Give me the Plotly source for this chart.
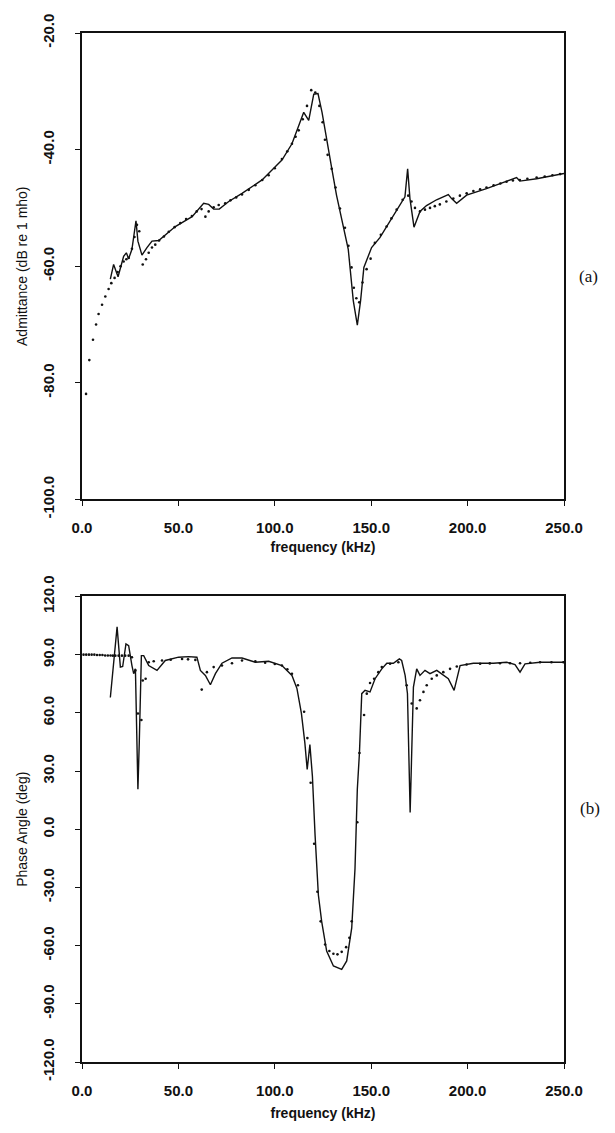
import plotly.graph_objects as go

# ---------------- data: (a) admittance ----------------
adm_meas_f = [14.7, 16.4, 18.7, 21.6, 23.0, 24.2, 25.9, 28.0, 29.0, 31.1, 33.7, 36.3, 39.8,
              48.4, 57.1, 63.1, 65.7, 68.3, 71.2, 76.1, 83.0, 93.4, 103.7, 108.9, 112.4,
              115.0, 117.6, 120.2, 122.4, 124.5, 129.7, 132.0, 138.1, 140.7, 142.8, 144.5,
              146.2, 150.2, 154.5, 159.7, 165.8, 167.5, 168.9, 170.1, 172.2, 175.3, 178.7,
              183.9, 190.0, 191.7, 194.3, 199.5, 209.8, 220.2, 225.4, 227.1, 235.8, 250.0]
adm_meas_db = [-62.2, -59.7, -61.8, -58.3, -57.7, -58.7, -57.1, -52.2, -55.7, -58.1, -56.8, -55.7, -55.6,
               -53.2, -51.5, -49.2, -49.4, -50.2, -50.2, -48.9, -47.5, -45.2, -41.8, -39.0, -35.9,
               -33.6, -35.0, -30.5, -30.4, -33.6, -43.5, -47.8, -57.1, -65.9, -70.1, -65.9,
               -60.2, -56.8, -55.1, -52.3, -48.9, -48.1, -43.3, -48.4, -53.3, -50.6, -49.6,
               -48.6, -47.7, -48.4, -49.2, -47.8, -46.7, -45.5, -44.8, -45.4, -45.0, -44.1]

adm_model_f = [2.1, 3.8, 5.7, 7.3, 8.6, 10.4, 12.1, 13.8, 15.2, 16.9, 18.5, 20.0, 21.6, 23.0, 24.2,
               25.9, 27.2, 28.5, 29.7, 31.5, 33.2, 34.6, 36.3, 38.0, 40.0, 42.5, 45.0, 48.0, 51.0,
               54.0, 57.0, 59.5, 62.0, 64.0, 65.7, 68.3, 70.9, 74.3, 77.0, 80.0, 83.0, 86.5, 89.9,
               93.5, 96.8, 100.0, 103.7, 106.5, 108.9, 110.8, 112.4, 114.5, 116.7, 118.9, 121.0,
               123.1, 124.8, 126.0, 127.4, 129.5, 131.5, 133.8, 136.4, 138.2, 139.8, 141.0, 142.3,
               143.8, 145.5, 147.6, 149.7, 151.9, 155.0, 158.0, 160.5, 163.2, 166.3, 169.2, 170.9,
               172.7, 175.3, 177.9, 180.5, 183.0, 185.6, 189.0, 192.6, 196.0, 199.5, 203.0, 206.5,
               209.8, 213.5, 217.0, 220.2, 223.5, 227.1, 231.0, 235.8, 240.0, 244.0, 248.0]
adm_model_db = [-81.9, -76.1, -72.6, -70.0, -68.2, -66.6, -65.2, -63.9, -62.9, -62.0, -61.0, -60.0, -59.2,
                -58.8, -58.6, -57.0, -55.0, -52.9, -54.0, -59.7, -58.8, -57.7, -56.8, -56.3, -55.6,
                -54.9, -54.1, -53.3, -52.6, -51.9, -51.4, -50.6, -50.2, -51.5, -50.6, -49.9, -49.5,
                -49.2, -48.7, -48.2, -47.7, -46.9, -46.1, -45.2, -44.4, -43.2, -41.6, -40.3, -39.0,
                -37.8, -36.7, -34.8, -32.5, -29.8, -30.2, -32.5, -35.3, -38.3, -40.9, -43.3, -46.5,
                -50.1, -53.4, -56.5, -60.2, -63.7, -65.5, -66.2, -62.8, -60.5, -58.7, -56.0, -54.6,
                -53.2, -51.8, -50.3, -48.6, -47.9, -48.9, -50.0, -50.6, -50.3, -50.0, -49.7, -49.4,
                -48.9, -48.4, -47.9, -47.5, -47.1, -46.8, -46.5, -46.1, -45.8, -45.5, -45.3, -45.2,
                -45.0, -44.8, -44.6, -44.4, -44.2]

# ---------------- data: (b) phase ----------------
ph_meas_f = [14.7, 18.2, 19.9, 21.1, 22.8, 24.2, 25.9, 26.8, 27.7, 29.0, 29.7, 30.8, 32.0, 34.6,
             38.9, 43.2, 50.1, 55.3, 59.6, 61.4, 64.0, 66.6, 69.2, 72.6, 77.8, 83.0, 89.9, 96.8,
             103.7, 108.9, 111.5, 113.8, 115.6, 116.8, 118.2, 119.5, 120.9, 122.6, 124.3, 126.9,
             130.4, 134.7, 137.3, 139.9, 141.6, 142.8, 143.9, 145.1, 146.8, 149.4, 152.0, 155.5,
             158.1, 161.5, 164.6, 165.8, 167.6, 168.8, 170.2, 170.7, 171.9, 173.6, 175.3, 177.9,
             180.5, 184.0, 186.6, 190.0, 193.0, 196.1, 203.0, 213.4, 220.3, 224.6, 227.2, 229.8,
             237.6, 250.0]
ph_meas_deg = [67.9, 104.3, 83.6, 83.9, 95.5, 94.6, 84.4, 80.2, 82.7, 20.6, 44.4, 89.5, 89.5, 84.4,
               81.9, 87.0, 88.7, 89.0, 88.7, 81.9, 79.3, 74.5, 80.2, 85.6, 88.3, 88.3, 86.1, 86.6,
               84.4, 79.3, 72.5, 59.7, 44.4, 30.8, 43.6, 27.4, -3.3, -33.9, -47.5, -62.8,
               -70.5, -72.2, -67.9, -50.9, -20.3, 20.6, 39.3, 69.9, 71.6, 70.8, 77.6, 82.7,
               85.6, 85.6, 87.8, 87.0, 79.3, 70.0, 8.6, 30.8, 73.3, 82.7, 79.3, 81.9,
               80.2, 81.9, 80.2, 77.6, 71.6, 84.4, 85.6, 85.6, 86.1, 84.9, 81.0, 85.3,
               86.1, 86.1]

ph_model_f = [0.8, 2.2, 3.6, 5.0, 6.4, 7.8, 9.2, 10.6, 12.0, 13.4, 14.8, 16.0, 17.3, 19.0, 20.7,
              22.4, 24.2, 25.9, 27.7, 29.0, 30.8, 31.5, 33.0, 34.6, 37.2, 41.5, 46.0, 51.9, 55.0,
              58.8, 62.1, 64.8, 68.3, 72.6, 77.8, 83.0, 89.9, 95.0, 100.0, 103.7, 106.5, 108.9,
              112.0, 115.2, 116.9, 118.6, 120.4, 122.1, 123.8, 126.1, 128.3, 130.4, 132.5, 134.7,
              137.0, 138.7, 139.9, 142.8, 143.9, 146.3, 147.7, 149.4, 151.5, 153.7, 155.5, 159.8,
              164.1, 168.4, 171.0, 173.6, 175.3, 177.1, 178.8, 181.4, 184.0, 187.4, 190.9, 194.4,
              199.5, 206.5, 211.5, 216.8, 222.0, 227.2, 232.5, 237.6, 243.5, 249.7]
ph_model_deg = [90.0, 90.0, 90.0, 90.0, 90.0, 89.8, 89.8, 89.8, 89.6, 89.6, 89.6, 89.5, 89.5, 89.5, 89.5,
                89.5, 89.5, 88.7, 81.9, 59.7, 56.3, 76.7, 77.6, 86.1, 86.6, 87.0, 87.4, 87.8, 87.6,
                87.3, 72.0, 81.0, 83.6, 84.4, 85.6, 87.0, 86.6, 85.8, 85.2, 84.4, 82.5, 80.2,
                74.2, 60.6, 47.0, 24.0, -7.5, -32.2, -47.5, -59.4, -62.8, -64.2, -64.5, -63.2,
                -60.8, -56.0, -47.5, 3.6, 39.3, 58.9, 69.9, 75.4, 77.6, 81.0, 83.6, 85.3,
                86.1, 74.2, 64.8, 62.3, 66.5, 70.8, 74.2, 77.6, 79.3, 81.0, 82.7, 83.9,
                84.9, 85.3, 85.5, 85.6, 85.6, 85.6, 85.8, 86.1, 86.1, 86.1]

freq_ticks = [0, 50, 100, 150, 200, 250]
freq_labels = ["0.0", "50.0", "100.0", "150.0", "200.0", "250.0"]
adm_ticks = [-100, -80, -60, -40, -20]
adm_labels = ["-100.0", "-80.0", "-60.0", "-40.0", "-20.0"]
ph_ticks = [-120, -90, -60, -30, 0, 30, 60, 90, 120]
ph_labels = ["-120.0", "-90.0", "-60.0", "-30.0", "0.0", "30.0", "60.0", "90.0", "120.0"]

# ---------------- figure ----------------
INK = "#111111"
fig = go.Figure()

fig.add_trace(go.Scatter(x=adm_model_f, y=adm_model_db, mode="markers",
                         marker=dict(color=INK, size=2.6), xaxis="x", yaxis="y",
                         showlegend=False))
fig.add_trace(go.Scatter(x=adm_meas_f, y=adm_meas_db, mode="lines",
                         line=dict(color=INK, width=1.4), xaxis="x", yaxis="y",
                         showlegend=False))
fig.add_trace(go.Scatter(x=ph_model_f, y=ph_model_deg, mode="markers",
                         marker=dict(color=INK, size=2.6), xaxis="x2", yaxis="y2",
                         showlegend=False))
fig.add_trace(go.Scatter(x=ph_meas_f, y=ph_meas_deg, mode="lines",
                         line=dict(color=INK, width=1.4), xaxis="x2", yaxis="y2",
                         showlegend=False))

tickfont = dict(family="Liberation Sans, Arial, sans-serif", size=15, color=INK, weight="bold")
xtitlefont = dict(family="Liberation Sans, Arial, sans-serif", size=14, color=INK, weight="bold")
ytitlefont = dict(family="Liberation Sans, Arial, sans-serif", size=14, color=INK)

def xaxis(anchor, title, standoff):
    return dict(domain=[0, 1], range=[0, 250], anchor=anchor,
                tickvals=freq_ticks, ticktext=freq_labels, tickfont=tickfont,
                ticks="outside", ticklen=5, tickwidth=1.2, tickcolor=INK,
                ticklabelstandoff=9,
                showline=True, linecolor=INK, linewidth=2, mirror=True,
                showgrid=False, zeroline=False,
                title=dict(text=title, font=xtitlefont, standoff=standoff),
                automargin=True)

def yaxis(anchor, domain, rng, vals, labels, title):
    return dict(domain=domain, range=rng, anchor=anchor,
                tickvals=vals, ticktext=labels, tickfont=tickfont, tickangle=-90,
                ticks="outside", ticklen=5, tickwidth=1.2, tickcolor=INK,
                ticklabelstandoff=15,
                showline=True, linecolor=INK, linewidth=2, mirror=True,
                showgrid=False, zeroline=False,
                title=dict(text=title, font=ytitlefont, standoff=9),
                automargin=True)

fig.update_layout(
    width=615, height=1133,
    margin=dict(l=82, r=51, t=23, b=71),
    paper_bgcolor="white", plot_bgcolor="white",
    xaxis=xaxis("y", "frequency (kHz)", 7),
    yaxis=yaxis("x", [0.5467, 1.0], [-100, -20], adm_ticks, adm_labels,
                "Admittance (dB re 1 mho)"),
    xaxis2=xaxis("y2", "frequency (kHz)", 10),
    yaxis2=yaxis("x2", [0.0, 0.4524], [-120, 120], ph_ticks, ph_labels,
                 "Phase Angle (deg)"),
    annotations=[
        dict(text="(a)", x=600, y=257, xref="paper", yref="paper", showarrow=False,
             font=dict(family="Liberation Serif, Times New Roman, serif", size=17, color=INK)),
        dict(text="(b)", x=602, y=818, xref="paper", yref="paper", showarrow=False,
             font=dict(family="Liberation Serif, Times New Roman, serif", size=17, color=INK)),
    ],
)

# convert annotation pixel positions to paper coordinates
W, H = 615, 1133
L, R, T, B = 82, 51, 23, 71
for ann in fig.layout.annotations:
    px, py = ann.x, ann.y
    ann.x = (px - L) / (W - L - R)
    ann.y = 1 - (py - T) / (H - T - B)

fig.write_html("out.html")
